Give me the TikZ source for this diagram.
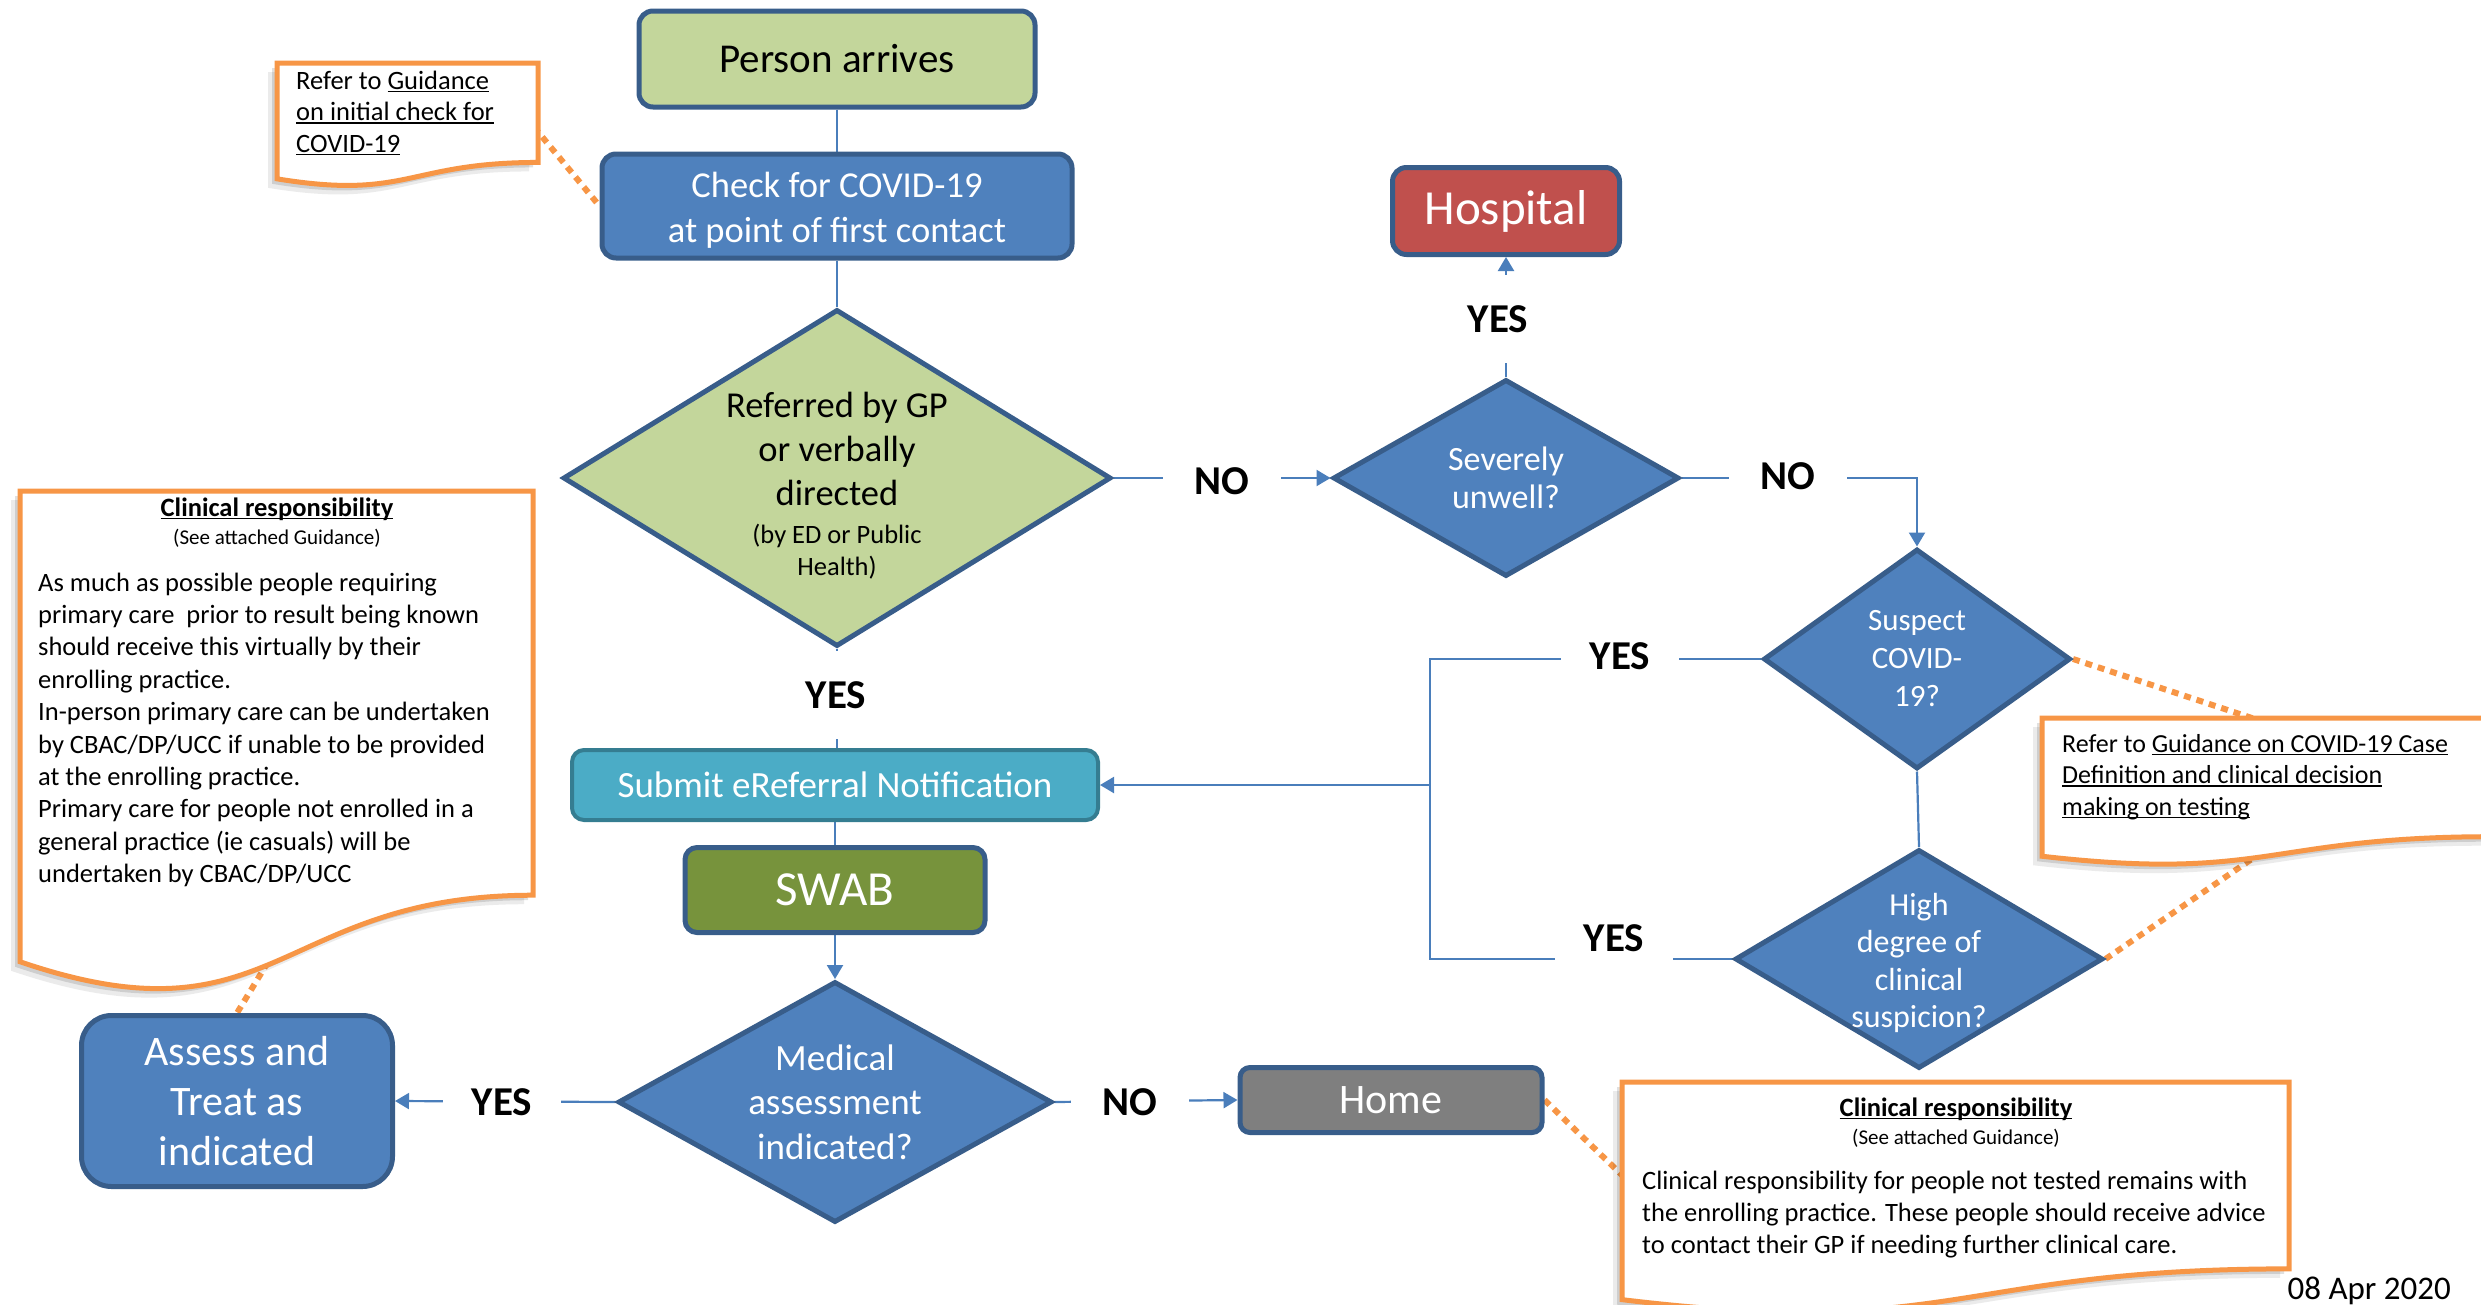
\documentclass[tikz,border=0pt]{standalone}
\usepackage{fontspec}
\setmainfont{Carlito}
\usetikzlibrary{shapes.geometric,arrows.meta}
\pgfdeclarelayer{bg}
\pgfsetlayers{bg,main}
\definecolor{gl}{HTML}{C3D69B}
\definecolor{bd}{HTML}{385D8A}
\definecolor{bl}{HTML}{4F81BD}
\definecolor{rd}{HTML}{C0504D}
\definecolor{tl}{HTML}{4BACC6}
\definecolor{tb}{HTML}{357D91}
\definecolor{ol}{HTML}{77933C}
\definecolor{gy}{HTML}{7F7F7F}
\definecolor{ln}{HTML}{4A7EBB}
\definecolor{og}{HTML}{F79646}
\newcommand{\fs}[2]{\fontsize{#1}{#2}\selectfont}
\newcommand{\ulx}[1]{\setbox0=\hbox{#1}\rlap{\rule[-0.12em]{\wd0}{0.06em}}\box0}
\newcommand{\docshape}[4]{%
  \foreach \dd/\oo in {9/0.08,5/0.12}{%
    \fill[black,opacity=\oo] ({#1-\dd},{#2+\dd}) -- ({#1+#3-\dd},{#2+\dd}) -- ({#1+#3-\dd},{#2+\dd+0.802*#4}) .. controls ({#1-\dd+0.5*#3},{#2+\dd+0.802*#4}) and ({#1-\dd+0.5*#3},{#2+\dd+1.1075*#4}) .. ({#1-\dd},{#2+\dd+0.934*#4}) -- cycle;}
  \draw[callout] (#1,#2) -- ({#1+#3},#2) -- ({#1+#3},{#2+0.802*#4}) .. controls ({#1+0.5*#3},{#2+0.802*#4}) and ({#1+0.5*#3},{#2+1.1075*#4}) .. (#1,{#2+0.934*#4}) -- cycle;}
\begin{document}
\begin{tikzpicture}[x=1pt,y=-1pt,
  box/.style={draw=bd, line width=5pt, rounded corners=14pt, text=white, align=center, inner sep=0pt, fill=bl},
  dia/.style={shape=diamond, draw=bd, line width=5pt, fill=bl, text=white, align=center, inner sep=-12pt},
  conn/.style={draw=ln, line width=2.2pt},
  arr/.style={conn, -{Triangle[length=14pt,width=16pt]}},
  lbl/.style={fill=white, font=\fs{41}{49}\bfseries, minimum width=118pt, minimum height=88pt, inner sep=0pt},
  callout/.style={draw=og, line width=5pt, fill=white},
  dots/.style={draw=og, line width=6pt, dash pattern=on 7pt off 6pt},
  ctext/.style={inner sep=0pt, font=\fs{26.5}{32}, text=black}]
\useasboundingbox (0,0) rectangle (2481,1304);
\clip (0,0) rectangle (2481,1304);

% flow nodes
\node[box, fill=gl, text=black, minimum width=396pt, minimum height=96pt, font=\fs{41}{49}] (person) at (837,59) {Person arrives};
\node[box, minimum width=470pt, minimum height=104pt, font=\fs{36.5}{45}] (check) at (837,206) {{}\\[-11pt]Check for COVID-19\\at point of first contact};
\node[dia, fill=gl, text=black, minimum width=548pt, minimum height=337pt, aspect=1.63, font=\fs{36.5}{44}] (refer) at (837,478)
  {{}\\[-4pt]Referred by GP\\or verbally\\directed\\[-6pt]\fs{26.5}{32}(by ED or Public\\[-12pt]\fs{26.5}{32}Health)};
\node[box, fill=rd, minimum width=227pt, minimum height=87pt, font=\fs{49}{58}] (hosp) at (1506,211) {Hospital};
\node[dia, minimum width=346pt, minimum height=197pt, aspect=1.74, font=\fs{34}{38}] (severe) at (1506,478) {Severely\\unwell?};
\node[dia, minimum width=307pt, minimum height=220pt, aspect=1.39, font=\fs{31}{38}] (suspect) at (1917,659) {Suspect\\COVID-\\19?};
\node[dia, minimum width=368pt, minimum height=219pt, aspect=1.68, font=\fs{32}{37.5}] (high) at (1919,959) {{}\\[-7pt]High\\degree of\\clinical\\suspicion?};
\node[box, fill=tl, draw=tb, line width=4pt, rounded corners=12pt, minimum width=526pt, minimum height=70pt, font=\fs{37}{44}] (submit) at (835,785) {Submit eReferral Notification};
\node[box, fill=ol, rounded corners=12pt, minimum width=300pt, minimum height=85pt, font=\fs{49}{58}] (swab) at (835,890) {SWAB};
\node[dia, minimum width=434pt, minimum height=241pt, aspect=1.79, font=\fs{37}{44.5}] (medical) at (835,1102) {Medical\\assessment\\indicated?};
\node[box, rounded corners=30pt, minimum width=311pt, minimum height=171pt, font=\fs{42}{50}] (assess) at (237,1101) {Assess and\\Treat as\\indicated};
\node[box, fill=gy, rounded corners=10pt, minimum width=302pt, minimum height=65pt, font=\fs{42}{50}] (home) at (1391,1100) {Home};

% callouts
\docshape{277}{63}{261}{124}
\docshape{20}{491}{513}{504}
\docshape{2042}{718}{450}{148}
\docshape{1622}{1082}{667}{233}

\coordinate (c1p) at (534,127);
\coordinate (c2p) at (268,962);
\coordinate (c3a) at (2264,722);
\coordinate (c3b) at (2262,852);
\coordinate (c4p) at (1627,1180);
\coordinate (bus) at (1430,785);

\begin{pgfonlayer}{bg}
\draw[conn] (person.south) -- (check.north);
\draw[conn] (check.south) -- (refer.north);
\draw[conn] (refer.south) -- (refer.south |- submit.north);
\draw[arr] (refer.east) -- (severe.west);
\draw[arr] (severe.north) -- (hosp.south);
\draw[arr] (severe.east) -| (suspect.north);
\draw[conn] (suspect.west) -| (bus) |- (high.west);
\draw[arr] (bus) -- (submit.east);
\draw[conn] (suspect.south) -- (high.north);
\draw[conn] (submit.south) -- (swab.north);
\draw[arr] (swab.south) -- (medical.north);
\draw[arr] (medical.west) -- (assess.east);
\draw[arr] (medical.east) -- (home.west);
\draw[dots] (c1p) -- (check.west);
\draw[dots] (c2p) -- (assess.north);
\draw[dots] (suspect.east) -- (c3a);
\draw[dots] (high.east) -- (c3b);
\draw[dots] (home.east) -- (c4p);
\end{pgfonlayer}

% labels
\node[lbl] (yes1) at (836,695) {YES};
\node[lbl] (no1) at (1222,481) {NO};
\node[lbl] (yes2) at (1498,319) {YES};
\node[lbl] (no2) at (1788,476) {NO};
\node[lbl] (yes3) at (1620,656) {YES};
\node[lbl] (yes4) at (1614,938) {YES};
\node[lbl] (yes5) at (502,1102) {YES};
\node[lbl] (no3) at (1130,1102) {NO};

% callout texts
\node[ctext, font=\fs{26.5}{31.5}, anchor=base west] (c1t) at (296,89)
  {\vtop{\hbox{Refer to \ulx{Guidance}}\hbox{\ulx{on initial check for}}\hbox{\ulx{COVID-19}}}};
\node[font=\fs{26.5}{32}\bfseries, anchor=base, inner sep=0pt] (c2h) at (277,516) {\ulx{Clinical responsibility}};
\node[font=\fs{21}{25}, anchor=base, inner sep=0pt] (c2s) at (277,544) {(See attached Guidance)};
\node[ctext, font=\fs{26.5}{32.4}, anchor=base west] (c2b) at (38,591)
  {\vtop{\hbox{As much as possible people requiring}\hbox{primary care \ prior to result being known}\hbox{should receive this virtually by their}\hbox{enrolling practice.}\hbox{In-person primary care can be undertaken}\hbox{by CBAC/DP/UCC if unable to be provided}\hbox{at the enrolling practice.}\hbox{Primary care for people not enrolled in a}\hbox{general practice (ie casuals) will be}\hbox{undertaken by CBAC/DP/UCC}}};
\node[ctext, font=\fs{26}{31.5}, anchor=base west] (c3t) at (2062,752)
  {\vtop{\hbox{Refer to \ulx{Guidance on COVID-19 Case}}\hbox{\ulx{Definition and clinical decision}}\hbox{\ulx{making on testing}}}};
\node[font=\fs{26.5}{32}\bfseries, anchor=base, inner sep=0pt] (c4h) at (1956,1116) {\ulx{Clinical responsibility}};
\node[font=\fs{21}{25}, anchor=base, inner sep=0pt] (c4s) at (1956,1144) {(See attached Guidance)};
\node[ctext, font=\fs{26.5}{32}, anchor=base west] (c4b) at (1642,1189)
  {\vtop{\hbox{Clinical responsibility for people not tested remains with}\hbox{the enrolling practice. These people should receive advice}\hbox{to contact their GP if needing further clinical care.}}};
\node[font=\fs{33}{40}, anchor=base east, inner sep=0pt] (date) at (2451,1299) {08 Apr 2020};
\end{tikzpicture}
\end{document}
